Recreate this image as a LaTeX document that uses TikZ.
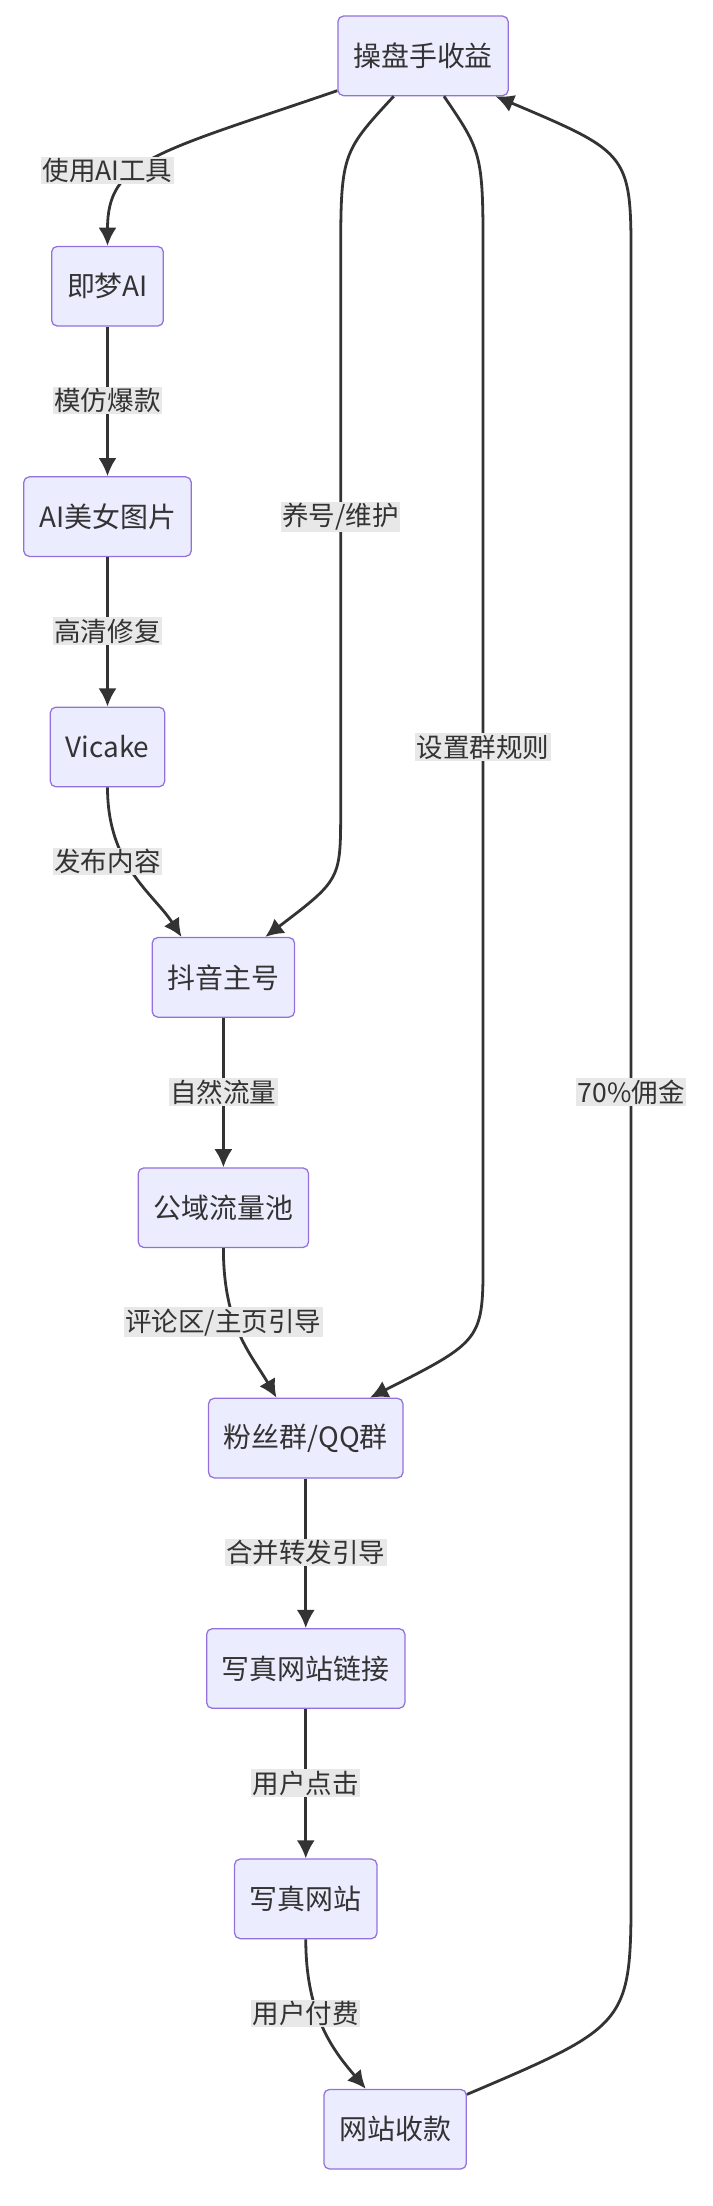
\documentclass[tikz,border=0pt]{standalone}
\usepackage{fontspec}
\setmainfont{Noto Sans CJK SC}
\usetikzlibrary{arrows.meta,positioning}
\definecolor{boxfill}{HTML}{ECECFF}
\definecolor{boxdraw}{HTML}{9370DB}
\definecolor{edge}{HTML}{333333}
\definecolor{lblbg}{HTML}{E8E8E8}
\tikzset{
  stage/.style={rectangle, rounded corners=4pt, draw=boxdraw, fill=boxfill,
    line width=0.9pt, minimum height=57pt, inner xsep=11pt,
    font=\fontsize{20}{24}\selectfont, text=edge},
  flow/.style={draw=edge, line width=2pt, -{Latex[length=13pt,width=13pt]}},
  lbl/.style={fill=lblbg, inner sep=1pt, font=\fontsize{19}{22}\selectfont, text=edge}
}
\begin{document}
\begin{tikzpicture}[x=1pt,y=-1pt]
\useasboundingbox (0,0) rectangle (510,1580);

% nodes
\node[stage] (op)  at (303,40)   {操盘手收益};
\node[stage] (jm)  at (77,205)   {即梦AI};
\node[stage] (img) at (77,370)   {AI美女图片};
\node[stage] (vc)  at (77,535)   {Vicake};
\node[stage] (dy)  at (160,700)  {抖音主号};
\node[stage] (pub) at (160,865)  {公域流量池};
\node[stage] (fan) at (219,1030) {粉丝群/QQ群};
\node[stage] (lnk) at (219,1195) {写真网站链接};
\node[stage] (web) at (219,1360) {写真网站};
\node[stage] (pay) at (283,1525) {网站收款};

% edges
\draw[flow] ([yshift=4pt]op.south west) .. controls (110,110) and (77,115) .. (jm.north);
\draw[flow] (jm) -- (img);
\draw[flow] (img) -- (vc);
\draw[flow] (vc.south) .. controls (77,620) and (110,640) .. ([xshift=-30pt]dy.north);
\draw[flow] ([xshift=-21pt]op.south) .. controls (244,110) .. (244,190)
  -- (244,580) .. controls (244,630) .. ([xshift=30pt]dy.north);
\draw[flow] (dy) -- (pub);
\draw[flow] (pub.south) .. controls (160,950) and (180,970) .. ([xshift=-21pt]fan.north);
\draw[flow] ([xshift=15pt]op.south) .. controls (346,110) .. (346,190)
  -- (346,900) .. controls (346,960) .. ([xshift=46pt]fan.north);
\draw[flow] (fan) -- (lnk);
\draw[flow] (lnk) -- (web);
\draw[flow] (web.south) .. controls (219,1445) and (240,1470) .. ([xshift=-21pt]pay.north);
\draw[flow] ([yshift=-4pt]pay.north east) .. controls (452,1450) .. (452,1350)
  -- (452,190) .. controls (452,110) .. ([xshift=52pt]op.south);

% labels
\node[lbl] (l1)  at (77,122)   {使用AI工具};
\node[lbl] (l2)  at (77,287)   {模仿爆款};
\node[lbl] (l3)  at (77,452)   {高清修复};
\node[lbl] (l4)  at (77,617)   {发布内容};
\node[lbl] (l5)  at (244,370)  {养号/维护};
\node[lbl] (l6)  at (160,782)  {自然流量};
\node[lbl] (l7)  at (160,947)  {评论区/主页引导};
\node[lbl] (l8)  at (346,535)  {设置群规则};
\node[lbl] (l9)  at (219,1112) {合并转发引导};
\node[lbl] (l10) at (219,1277) {用户点击};
\node[lbl] (l11) at (219,1442) {用户付费};
\node[lbl] (l12) at (452,782)  {70\%佣金};
\end{tikzpicture}
\end{document}
